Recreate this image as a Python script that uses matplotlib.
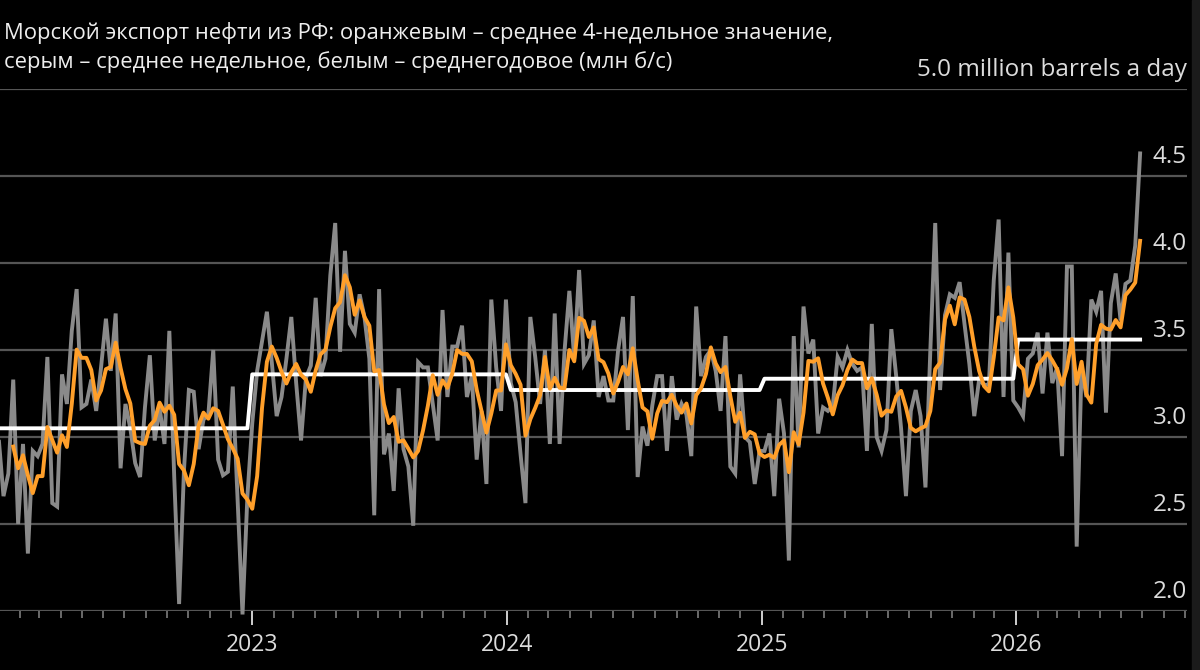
import numpy as np
import pandas as pd
import matplotlib
matplotlib.use('Agg')
import matplotlib.pyplot as plt
import matplotlib.dates as mdates
from matplotlib.patches import Rectangle
from matplotlib.transforms import blended_transform_factory, offset_copy

plt.rcParams['font.family'] = ['Open Sans', 'DejaVu Sans']

# weekly seaborne crude exports, million b/d
start_date = '2022-01-02'
weekly = [
    3.00, 2.66, 2.79, 3.33, 2.50, 2.96, 2.33, 2.92, 2.89, 2.96,
    3.46, 2.62, 2.60, 3.36, 3.19, 3.61, 3.85, 3.17, 3.19, 3.33,
    3.15, 3.40, 3.68, 3.38, 3.71, 2.82, 3.19, 3.05, 2.85, 2.77,
    3.17, 3.47, 2.98, 3.17, 2.96, 3.61, 2.77, 2.04, 2.81, 3.27,
    3.26, 2.93, 3.10, 3.13, 3.50, 2.87, 2.78, 2.80, 3.29, 2.63,
    1.98, 2.66, 3.08, 3.38, 3.55, 3.72, 3.43, 3.12, 3.23, 3.45,
    3.69, 3.31, 2.98, 3.34, 3.41, 3.80, 3.35, 3.45, 3.93, 4.23,
    3.49, 4.07, 3.65, 3.60, 3.82, 3.69, 3.45, 2.55, 3.85, 2.90,
    3.02, 2.69, 3.28, 2.93, 2.83, 2.49, 3.43, 3.40, 3.40, 3.19,
    2.98, 3.73, 3.23, 3.52, 3.52, 3.64, 3.23, 3.35, 2.87, 3.15,
    2.73, 3.79, 3.40, 3.15, 3.79, 3.31, 3.20, 2.90, 2.62, 3.69,
    3.46, 3.19, 3.50, 2.96, 3.71, 2.96, 3.49, 3.84, 3.45, 3.96,
    3.42, 3.47, 3.67, 3.23, 3.35, 3.21, 3.21, 3.50, 3.69, 3.04,
    3.81, 2.77, 3.06, 2.95, 3.18, 3.35, 3.35, 2.92, 3.35, 3.10,
    3.19, 3.13, 2.89, 3.75, 3.35, 3.46, 3.50, 3.38, 3.15, 3.58,
    2.83, 2.79, 3.36, 3.00, 2.97, 2.73, 2.92, 2.92, 3.02, 2.66,
    3.22, 3.02, 2.29, 3.58, 2.94, 3.75, 3.48, 3.56, 3.02, 3.17,
    3.15, 3.18, 3.46, 3.40, 3.50, 3.42, 3.38, 3.40, 2.92, 3.65,
    3.00, 2.92, 3.04, 3.62, 3.35, 3.05, 2.66, 3.15, 3.27, 3.12,
    2.71, 3.50, 4.23, 3.27, 3.70, 3.82, 3.80, 3.89, 3.65, 3.42,
    3.12, 3.33, 3.30, 3.30, 3.90, 4.25, 3.23, 4.06, 3.21, 3.17,
    3.12, 3.45, 3.48, 3.60, 3.25, 3.60, 3.31, 3.40, 2.89, 3.98,
    3.98, 2.37, 3.40, 3.23, 3.79, 3.72, 3.84, 3.14, 3.77, 3.94,
    3.67, 3.88, 3.90, 4.10, 4.63,
]

# yearly averages (white line)
years = [2022, 2023, 2024, 2025, 2026]
annual_avg = [3.05, 3.36, 3.27, 3.335, 3.56]

y_ticks = [2.0, 2.5, 3.0, 3.5, 4.0, 4.5, 5.0]
y_labels = ['2.0', '2.5', '3.0', '3.5', '4.0', '4.5', '5.0 million barrels a day']

title = ('Морской экспорт нефти из РФ: оранжевым – среднее 4-недельное значение,\n'
         'серым – среднее недельное, белым – среднегодовое (млн б/с)')

dates = pd.date_range(start_date, periods=len(weekly), freq='7D')
s = pd.Series(weekly, index=dates)
avg4 = s.rolling(4).mean()
yearly = pd.Series(dates.year, index=dates).map(dict(zip(years, annual_avg)))

BG = 'black'
GRID = '#555555'
GRAY = '#8a8a8a'
ORANGE = '#ff9f2a'
TXT = '#dcdcdc'

fig = plt.figure(figsize=(12, 6.7), dpi=100)
fig.patch.set_facecolor(BG)
fig.patches.append(Rectangle((1192 / 1200, 0), 8 / 1200, 1, transform=fig.transFigure,
                             color='#1b1b1b', zorder=0))

ax = fig.add_axes([0.0, 0.0881, 0.989, 0.779])
ax.set_facecolor(BG)

ax.plot(s.index, s.values, color=GRAY, lw=2.8, zorder=3, clip_on=False,
        solid_joinstyle='miter')
ax.plot(yearly.index, yearly.values, color='white', lw=2.8, zorder=4, clip_on=False)
ax.plot(avg4.index, avg4.values, color=ORANGE, lw=2.8, zorder=5, clip_on=False)

ax.set_ylim(2.0, 5.0)
ax.set_xlim(pd.Timestamp('2022-01-04'), pd.Timestamp('2026-09-03'))

for v in y_ticks:
    ax.axhline(v, color=GRID, lw=1.6, zorder=1)

for sp in ax.spines.values():
    sp.set_visible(False)

ax.set_yticks([])
ax.xaxis.set_major_locator(mdates.YearLocator())
ax.xaxis.set_major_formatter(mdates.DateFormatter('%Y'))
ax.xaxis.set_minor_locator(mdates.MonthLocator())
ax.tick_params(axis='x', which='major', length=10, width=1.4, color='#cfcfcf',
               labelcolor=TXT, labelsize=16.5, pad=6)
ax.tick_params(axis='x', which='minor', length=5, width=1.4, color='#6a6a6a')

trans = blended_transform_factory(ax.transAxes, ax.transData)
trans = offset_copy(trans, fig=fig, x=0, y=9.5, units='points')
for v, lab in zip(y_ticks, y_labels):
    ax.text(1.0, v, lab, transform=trans, ha='right', va='baseline',
            color=TXT, fontsize=17.5)

fig.text(0.003, 0.967, title, ha='left', va='top', color='#eeeeee',
         fontsize=15.8, linespacing=1.42)

fig.savefig('out.png', dpi=100, facecolor=fig.get_facecolor())
